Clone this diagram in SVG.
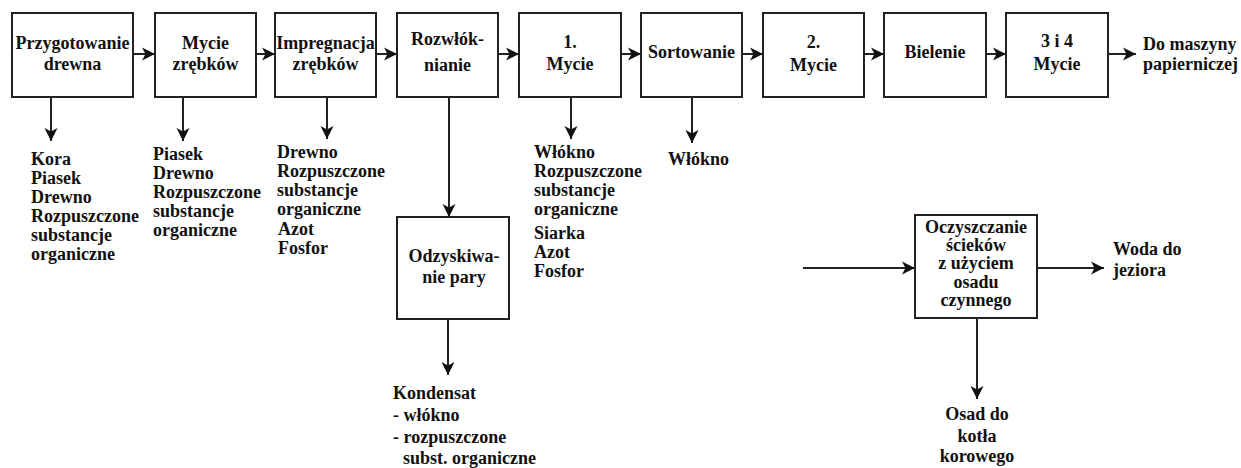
<svg xmlns="http://www.w3.org/2000/svg" width="1241" height="468" viewBox="0 0 1241 468">
  <style>
    .box { fill: #ffffff; stroke: #222222; stroke-width: 2; }
    .line { fill: none; stroke: #222222; stroke-width: 2; }
    text { font-weight: bold; font-size: 18px; fill: #111111; }
    .c { text-anchor: middle; }
  </style>
  <defs>
    <marker id="arrow" markerUnits="userSpaceOnUse" markerWidth="14" markerHeight="14" refX="13" refY="7" orient="auto">
      <path d="M0,0.5 L13,7 L0,13.5 L3.5,7 Z" fill="#111111"/>
    </marker>
  </defs>
  <rect width="1241" height="468" fill="#ffffff"/>

  <!-- connectors -->
  <g id="connectors">
    <line class="line" x1="133" y1="54" x2="155" y2="54" marker-end="url(#arrow)"/>
    <line class="line" x1="256" y1="54" x2="275" y2="54" marker-end="url(#arrow)"/>
    <line class="line" x1="376" y1="54" x2="397" y2="54" marker-end="url(#arrow)"/>
    <line class="line" x1="498" y1="54" x2="519" y2="54" marker-end="url(#arrow)"/>
    <line class="line" x1="621" y1="54" x2="641" y2="54" marker-end="url(#arrow)"/>
    <line class="line" x1="742" y1="54" x2="763" y2="54" marker-end="url(#arrow)"/>
    <line class="line" x1="864" y1="54" x2="884" y2="54" marker-end="url(#arrow)"/>
    <line class="line" x1="986" y1="54" x2="1006" y2="54" marker-end="url(#arrow)"/>
    <line class="line" x1="1108" y1="54" x2="1136" y2="54" marker-end="url(#arrow)"/>
    <!-- outflows below the main line -->
    <line class="line" x1="51" y1="97" x2="51" y2="141" marker-end="url(#arrow)"/>
    <line class="line" x1="183" y1="97" x2="183" y2="141" marker-end="url(#arrow)"/>
    <line class="line" x1="327" y1="97" x2="327" y2="139" marker-end="url(#arrow)"/>
    <line class="line" x1="449" y1="97" x2="449" y2="217" marker-end="url(#arrow)"/>
    <line class="line" x1="571" y1="97" x2="571" y2="139" marker-end="url(#arrow)"/>
    <line class="line" x1="692" y1="97" x2="692" y2="143" marker-end="url(#arrow)"/>
    <line class="line" x1="448" y1="319" x2="448" y2="375" marker-end="url(#arrow)"/>
    <!-- wastewater treatment -->
    <line class="line" x1="803" y1="268" x2="915" y2="268" marker-end="url(#arrow)"/>
    <line class="line" x1="1037" y1="268" x2="1104" y2="268" marker-end="url(#arrow)"/>
    <line class="line" x1="977" y1="318" x2="977" y2="399" marker-end="url(#arrow)"/>
  </g>

  <g font-family="'Liberation Serif', 'DejaVu Serif', serif">
  <!-- process steps -->
  <g id="przygotowanie">
    <rect class="box" x="12" y="13" width="121" height="84"/>
    <text class="c" x="72.5" y="49">Przygotowanie</text>
    <text class="c" x="72.5" y="70">drewna</text>
  </g>
  <g id="mycie-zrebkow">
    <rect class="box" x="155" y="13" width="101" height="84"/>
    <text class="c" x="205.5" y="49">Mycie</text>
    <text class="c" x="205.5" y="70">zrębków</text>
  </g>
  <g id="impregnacja">
    <rect class="box" x="275" y="13" width="101" height="84"/>
    <text class="c" x="325.5" y="49">Impregnacja</text>
    <text class="c" x="325.5" y="70">zrębków</text>
  </g>
  <g id="rozwloknianie">
    <rect class="box" x="397" y="13" width="101" height="84"/>
    <text class="c" x="447.5" y="45">Rozwłók-</text>
    <text class="c" x="447.5" y="71">nianie</text>
  </g>
  <g id="mycie-1">
    <rect class="box" x="519" y="13" width="102" height="84"/>
    <text class="c" x="570" y="48">1.</text>
    <text class="c" x="570" y="70">Mycie</text>
  </g>
  <g id="sortowanie">
    <rect class="box" x="641" y="13" width="101" height="84"/>
    <text class="c" x="691.5" y="58">Sortowanie</text>
  </g>
  <g id="mycie-2">
    <rect class="box" x="763" y="13" width="101" height="84"/>
    <text class="c" x="813.5" y="48">2.</text>
    <text class="c" x="813.5" y="71">Mycie</text>
  </g>
  <g id="bielenie">
    <rect class="box" x="884" y="13" width="102" height="84"/>
    <text class="c" x="935" y="58">Bielenie</text>
  </g>
  <g id="mycie-3-4">
    <rect class="box" x="1006" y="13" width="102" height="84"/>
    <text class="c" x="1057" y="47">3 i 4</text>
    <text class="c" x="1057" y="70">Mycie</text>
  </g>
  <g id="do-maszyny">
    <text x="1143" y="50">Do maszyny</text>
    <text x="1143" y="70">papierniczej</text>
  </g>

  <!-- side streams -->
  <g id="odpady-przygotowanie">
    <text x="31" y="165">Kora</text>
    <text x="31" y="184">Piasek</text>
    <text x="31" y="203">Drewno</text>
    <text x="31" y="222">Rozpuszczone</text>
    <text x="31" y="241">substancje</text>
    <text x="31" y="260">organiczne</text>
  </g>
  <g id="odpady-mycie-zrebkow">
    <text x="153" y="160">Piasek</text>
    <text x="153" y="179">Drewno</text>
    <text x="153" y="198">Rozpuszczone</text>
    <text x="153" y="217">substancje</text>
    <text x="153" y="236">organiczne</text>
  </g>
  <g id="odpady-impregnacja">
    <text x="277" y="158">Drewno</text>
    <text x="277" y="177">Rozpuszczone</text>
    <text x="277" y="196">substancje</text>
    <text x="277" y="215">organiczne</text>
    <text x="278" y="235">Azot</text>
    <text x="278" y="254">Fosfor</text>
  </g>
  <g id="odpady-mycie-1">
    <text x="534" y="158">Włókno</text>
    <text x="534" y="177">Rozpuszczone</text>
    <text x="534" y="196">substancje</text>
    <text x="534" y="215">organiczne</text>
    <text x="534" y="239">Siarka</text>
    <text x="534" y="258">Azot</text>
    <text x="534" y="277">Fosfor</text>
  </g>
  <g id="odpady-sortowanie">
    <text x="668" y="165">Włókno</text>
  </g>

  <g id="odzyskiwanie-pary">
    <rect class="box" x="397" y="217" width="112" height="102"/>
    <text class="c" x="454" y="262">Odzyskiwa-</text>
    <text class="c" x="454" y="283">nie pary</text>
  </g>
  <g id="kondensat">
    <text x="393" y="399">Kondensat</text>
    <text x="393" y="421">- włókno</text>
    <text x="393" y="443">- rozpuszczone</text>
    <text x="403" y="464">subst. organiczne</text>
  </g>

  <g id="oczyszczanie">
    <rect class="box" x="915" y="215" width="122" height="103"/>
    <text class="c" x="976" y="233">Oczyszczanie</text>
    <text class="c" x="976" y="251">ścieków</text>
    <text class="c" x="976" y="269">z użyciem</text>
    <text class="c" x="976" y="288">osadu</text>
    <text class="c" x="976" y="306">czynnego</text>
  </g>
  <g id="woda-do-jeziora">
    <text x="1113" y="255">Woda do</text>
    <text x="1113" y="276">jeziora</text>
  </g>
  <g id="osad">
    <text class="c" x="977" y="420">Osad do</text>
    <text class="c" x="977" y="442">kotła</text>
    <text class="c" x="977" y="462">korowego</text>
  </g>
  </g>
</svg>
